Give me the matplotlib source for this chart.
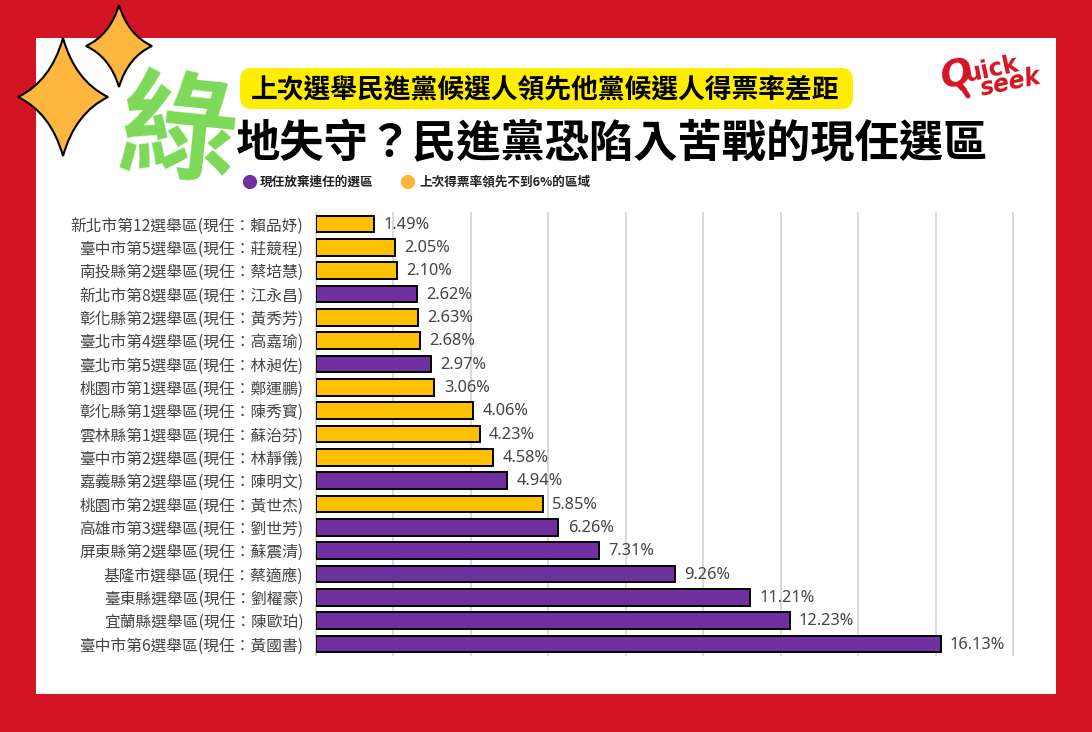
import matplotlib
matplotlib.use('Agg')
import matplotlib.pyplot as plt
from matplotlib.patches import FancyBboxPatch, PathPatch, Rectangle
from matplotlib.path import Path

plt.rcParams['font.family'] = ['Noto Sans CJK TC', 'DejaVu Sans']

districts = ['新北市第12選舉區(現任：賴品妤)', '臺中市第5選舉區(現任：莊競程)', '南投縣第2選舉區(現任：蔡培慧)',
             '新北市第8選舉區(現任：江永昌)', '彰化縣第2選舉區(現任：黃秀芳)', '臺北市第4選舉區(現任：高嘉瑜)',
             '臺北市第5選舉區(現任：林昶佐)', '桃園市第1選舉區(現任：鄭運鵬)', '彰化縣第1選舉區(現任：陳秀寳)',
             '雲林縣第1選舉區(現任：蘇治芬)', '臺中市第2選舉區(現任：林靜儀)', '嘉義縣第2選舉區(現任：陳明文)',
             '桃園市第2選舉區(現任：黃世杰)', '高雄市第3選舉區(現任：劉世芳)', '屏東縣第2選舉區(現任：蘇震清)',
             '基隆市選舉區(現任：蔡適應)', '臺東縣選舉區(現任：劉櫂豪)', '宜蘭縣選舉區(現任：陳歐珀)',
             '臺中市第6選舉區(現任：黃國書)']
margins = [1.49, 2.05, 2.10, 2.62, 2.63, 2.68, 2.97, 3.06, 4.06, 4.23, 4.58, 4.94, 5.85, 6.26, 7.31, 9.26, 11.21, 12.23, 16.13]
# 1 = not running again, 0 = lead under 6%
retiring = [0, 0, 0, 1, 0, 0, 1, 0, 0, 0, 0, 1, 0, 1, 1, 1, 1, 1, 1]

PURPLE = '#7030a0'
GOLD = '#ffc000'
RED = '#d31523'

fig = plt.figure(figsize=(10.92, 7.32), dpi=100, facecolor=RED)

# pixel coordinate layer for the poster decoration
bg = fig.add_axes([0, 0, 1, 1], zorder=0)
bg.set_xlim(0, 1092)
bg.set_ylim(732, 0)
bg.axis('off')
bg.add_patch(Rectangle((36, 38), 1020, 656, fc='white', ec='none'))

# bar chart
ax = fig.add_axes([316 / 1092, 1 - 655 / 732, 697 / 1092, 442 / 732], zorder=1)
ax.patch.set_alpha(0)
colors = [PURPLE if r else GOLD for r in retiring]
ypos = list(range(len(districts)))
ax.barh(ypos, margins, height=0.72, color=colors, edgecolor='black', linewidth=1.4, zorder=3)
for y, v in zip(ypos, margins):
    ax.text(v + 0.24, y + 0.03, '%.2f%%' % v, va='center', ha='left', fontsize=11.8, color='#444444',
            family=['Noto Sans'], zorder=4)
ax.set_xlim(0, 18)
ax.set_ylim(18.47, -0.47)
ax.set_xticks(range(0, 19, 2))
ax.set_xticklabels([])
ax.set_yticks(ypos)
ax.set_yticklabels(districts, fontsize=11.3, color='#444444')
ax.tick_params(length=0, pad=9)
ax.grid(axis='x', color='#d9d9d9', linewidth=1.4, zorder=0, clip_on=False)
for s in ax.spines.values():
    s.set_visible(False)

# overlay with title, legend, stars, logo
top = fig.add_axes([0, 0, 1, 1], zorder=2)
top.set_xlim(0, 1092)
top.set_ylim(732, 0)
top.axis('off')
top.patch.set_alpha(0)


def star(cx, cy, rx, ry):
    k = 0.27
    verts = [(cx, cy - ry), (cx + rx * k, cy - ry * k), (cx + rx, cy),
             (cx + rx * k, cy + ry * k), (cx, cy + ry),
             (cx - rx * k, cy + ry * k), (cx - rx, cy),
             (cx - rx * k, cy - ry * k), (cx, cy - ry)]
    codes = [Path.MOVETO] + [Path.CURVE3] * 8
    top.add_patch(PathPatch(Path(verts, codes), fc='#ffb63e', ec='black', lw=1.5, joinstyle='miter'))


star(63, 97, 45, 59)
star(119, 46, 33, 41)

top.add_patch(FancyBboxPatch((252, 80), 589, 17, boxstyle='round,pad=12,rounding_size=12',
                             fc='#ffee00', ec='none'))

top.text(545, 89, '上次選舉民進黨候選人領先他黨候選人得票率差距', fontsize=19.3, fontweight='bold', color='black',
         ha='center', va='center')
top.text(236, 144, '地失守？民進黨恐陷入苦戰的現任選區', fontsize=31.9, fontweight='black', color='black',
         ha='left', va='center')
top.text(178, 135, '綠', fontsize=84, fontweight='black', color='#7ed957', ha='center', va='center',
         rotation=-6, rotation_mode='anchor')

# legend
top.scatter([250, 408], [182, 182], s=105, c=[PURPLE, '#ffb63e'], linewidths=0)
top.text(260, 182, '現任放棄連任的選區', fontsize=9.1, fontweight='bold', color='#222222', va='center')
top.text(419, 182, '上次得票率領先不到6%的區域', fontsize=9.1, fontweight='bold', color='#222222', va='center')

# logo
logo_font = ['DejaVu Sans']
top.plot([960, 968], [84, 96], color=RED, lw=3.5, solid_capstyle='round')
top.text(957, 76, 'Q', fontsize=27, fontweight='bold', style='italic', color=RED, family=logo_font,
         ha='center', va='center', rotation=10)
top.text(991, 69, 'uick', fontsize=17, fontweight='bold', color=RED, family=logo_font,
         ha='center', va='center', rotation=12)
top.text(1011, 83, 'seek', fontsize=17, fontweight='bold', style='italic', color=RED, family=logo_font,
         ha='center', va='center', rotation=12)

fig.savefig('out.png', dpi=100, facecolor=fig.get_facecolor())
